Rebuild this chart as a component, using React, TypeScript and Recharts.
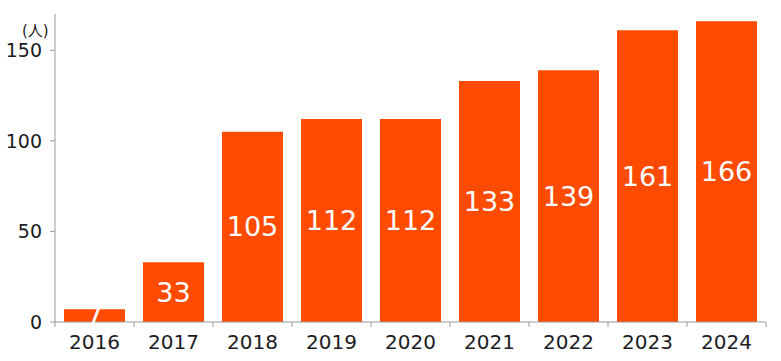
import { BarChart, Bar, XAxis, YAxis, LabelList } from "recharts";

const YEARS = ["2016", "2017", "2018", "2019", "2020", "2021", "2022", "2023", "2024"];
const PEOPLE = [7, 33, 105, 112, 112, 133, 139, 161, 166];
const Y_TICKS = [0, 50, 100, 150];

const W = 781;
const H = 361;
const M = { top: 14, right: 15, left: 0, bottom: 0 };
const Y_W = 55;
const BAND = (W - M.left - M.right - Y_W) / YEARS.length;

const AXIS = "#9a9a9a";
const TEXT = "#1c1c24";
const BAR = "#ff4b00";
const FONT = "'DejaVu Sans', 'Noto Sans CJK JP', sans-serif";

const data = YEARS.map((year, i) => ({ year, value: PEOPLE[i] }));

function YearTick(props: any) {
  const { x, y, payload, index } = props;
  const last = index === YEARS.length - 1;
  return (
    <g>
      <line x1={x - BAND / 2} x2={x - BAND / 2} y1={y} y2={y + 5} stroke={AXIS} />
      {last && <line x1={x + BAND / 2} x2={x + BAND / 2} y1={y} y2={y + 5} stroke={AXIS} />}
      <text x={x} y={y + 27} textAnchor="middle" fill={TEXT} fontSize={20} fontFamily={FONT}>
        {payload.value}
      </text>
    </g>
  );
}

function ValueTick(props: any) {
  const { y, payload } = props;
  return (
    <text x={42} y={y + 7} textAnchor="end" fill={TEXT} fontSize={19} fontFamily={FONT}>
      {payload.value}
    </text>
  );
}

export default function App() {
  return (
    <div style={{ position: "absolute", left: 0, top: 0, width: W, height: H, background: "#fff" }}>
      <div
        style={{
          position: "absolute", left: 22, top: 24, fontSize: 15, lineHeight: 1,
          color: TEXT, fontFamily: FONT,
        }}
      >
        (人)
      </div>
      <BarChart width={W} height={H} data={data} margin={M} barCategoryGap={9}>
        <XAxis
          dataKey="year"
          height={39}
          axisLine={{ stroke: AXIS }}
          tickLine={false}
          tickSize={0}
          tickMargin={0}
          tick={<YearTick />}
          interval={0}
        />
        <YAxis
          width={Y_W}
          domain={[0, 170]}
          ticks={Y_TICKS}
          axisLine={{ stroke: AXIS }}
          tickLine={{ stroke: AXIS }}
          tickSize={5}
          tick={<ValueTick />}
        />
        <Bar dataKey="value" fill={BAR} isAnimationActive={false}>
          <LabelList dataKey="value" position="center" fill="#fff" fontSize={27} fontFamily={FONT} />
        </Bar>
      </BarChart>
    </div>
  );
}
